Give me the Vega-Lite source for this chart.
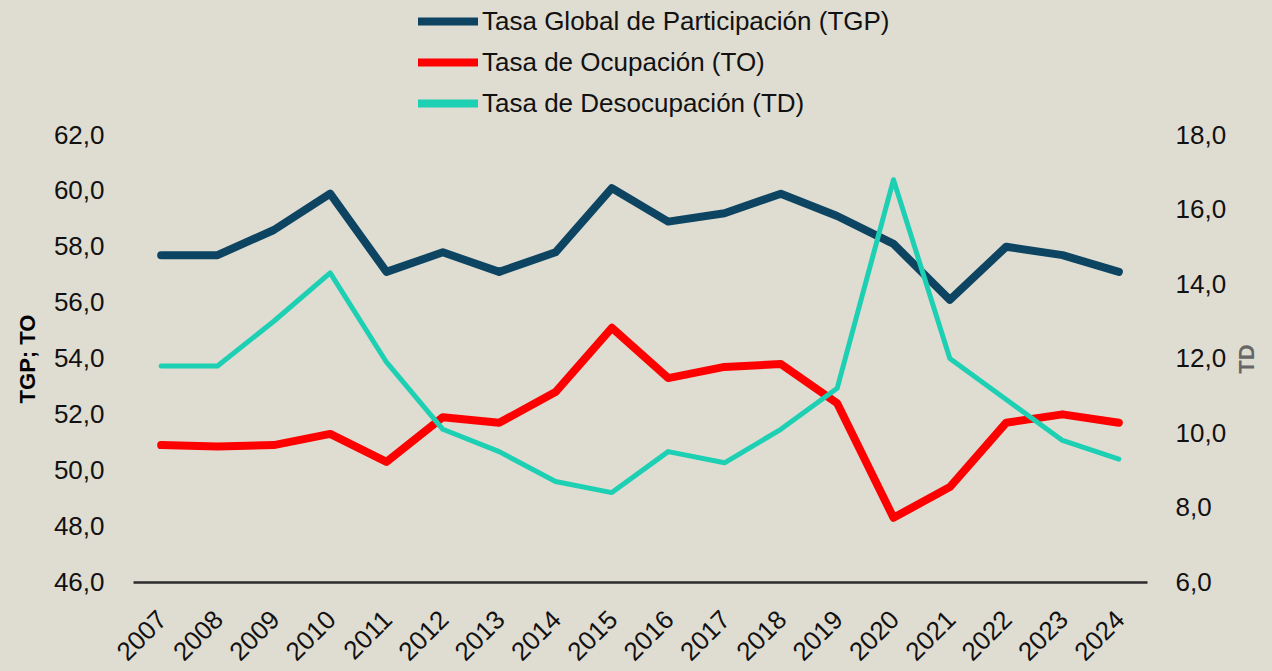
{
  "$schema": "https://vega.github.io/schema/vega-lite/v6.json",
  "width": 1014,
  "height": 447,
  "autosize": {"type": "none"},
  "padding": {"left": 133, "top": 135, "right": 125, "bottom": 89},
  "background": "#dfdcd1",
  "config": {"view": {"stroke": null}, "font": "Liberation Sans"},
  "data": {
    "values": [
      {"year": "2007", "serie": "Tasa Global de Participación (TGP)", "valor": 57.7},
      {"year": "2008", "serie": "Tasa Global de Participación (TGP)", "valor": 57.7},
      {"year": "2009", "serie": "Tasa Global de Participación (TGP)", "valor": 58.6},
      {"year": "2010", "serie": "Tasa Global de Participación (TGP)", "valor": 59.9},
      {"year": "2011", "serie": "Tasa Global de Participación (TGP)", "valor": 57.1},
      {"year": "2012", "serie": "Tasa Global de Participación (TGP)", "valor": 57.8},
      {"year": "2013", "serie": "Tasa Global de Participación (TGP)", "valor": 57.1},
      {"year": "2014", "serie": "Tasa Global de Participación (TGP)", "valor": 57.8},
      {"year": "2015", "serie": "Tasa Global de Participación (TGP)", "valor": 60.1},
      {"year": "2016", "serie": "Tasa Global de Participación (TGP)", "valor": 58.9},
      {"year": "2017", "serie": "Tasa Global de Participación (TGP)", "valor": 59.2},
      {"year": "2018", "serie": "Tasa Global de Participación (TGP)", "valor": 59.9},
      {"year": "2019", "serie": "Tasa Global de Participación (TGP)", "valor": 59.1},
      {"year": "2020", "serie": "Tasa Global de Participación (TGP)", "valor": 58.1},
      {"year": "2021", "serie": "Tasa Global de Participación (TGP)", "valor": 56.1},
      {"year": "2022", "serie": "Tasa Global de Participación (TGP)", "valor": 58.0},
      {"year": "2023", "serie": "Tasa Global de Participación (TGP)", "valor": 57.7},
      {"year": "2024", "serie": "Tasa Global de Participación (TGP)", "valor": 57.1},
      {"year": "2007", "serie": "Tasa de Ocupación (TO)", "valor": 50.9},
      {"year": "2008", "serie": "Tasa de Ocupación (TO)", "valor": 50.85},
      {"year": "2009", "serie": "Tasa de Ocupación (TO)", "valor": 50.9},
      {"year": "2010", "serie": "Tasa de Ocupación (TO)", "valor": 51.3},
      {"year": "2011", "serie": "Tasa de Ocupación (TO)", "valor": 50.3},
      {"year": "2012", "serie": "Tasa de Ocupación (TO)", "valor": 51.9},
      {"year": "2013", "serie": "Tasa de Ocupación (TO)", "valor": 51.7},
      {"year": "2014", "serie": "Tasa de Ocupación (TO)", "valor": 52.8},
      {"year": "2015", "serie": "Tasa de Ocupación (TO)", "valor": 55.1},
      {"year": "2016", "serie": "Tasa de Ocupación (TO)", "valor": 53.3},
      {"year": "2017", "serie": "Tasa de Ocupación (TO)", "valor": 53.7},
      {"year": "2018", "serie": "Tasa de Ocupación (TO)", "valor": 53.8},
      {"year": "2019", "serie": "Tasa de Ocupación (TO)", "valor": 52.4},
      {"year": "2020", "serie": "Tasa de Ocupación (TO)", "valor": 48.3},
      {"year": "2021", "serie": "Tasa de Ocupación (TO)", "valor": 49.4},
      {"year": "2022", "serie": "Tasa de Ocupación (TO)", "valor": 51.7},
      {"year": "2023", "serie": "Tasa de Ocupación (TO)", "valor": 52.0},
      {"year": "2024", "serie": "Tasa de Ocupación (TO)", "valor": 51.7},
      {"year": "2007", "serie": "Tasa de Desocupación (TD)", "valor": 11.8},
      {"year": "2008", "serie": "Tasa de Desocupación (TD)", "valor": 11.8},
      {"year": "2009", "serie": "Tasa de Desocupación (TD)", "valor": 13.0},
      {"year": "2010", "serie": "Tasa de Desocupación (TD)", "valor": 14.3},
      {"year": "2011", "serie": "Tasa de Desocupación (TD)", "valor": 11.9},
      {"year": "2012", "serie": "Tasa de Desocupación (TD)", "valor": 10.1},
      {"year": "2013", "serie": "Tasa de Desocupación (TD)", "valor": 9.5},
      {"year": "2014", "serie": "Tasa de Desocupación (TD)", "valor": 8.7},
      {"year": "2015", "serie": "Tasa de Desocupación (TD)", "valor": 8.4},
      {"year": "2016", "serie": "Tasa de Desocupación (TD)", "valor": 9.5},
      {"year": "2017", "serie": "Tasa de Desocupación (TD)", "valor": 9.2},
      {"year": "2018", "serie": "Tasa de Desocupación (TD)", "valor": 10.1},
      {"year": "2019", "serie": "Tasa de Desocupación (TD)", "valor": 11.2},
      {"year": "2020", "serie": "Tasa de Desocupación (TD)", "valor": 16.8},
      {"year": "2021", "serie": "Tasa de Desocupación (TD)", "valor": 12.0},
      {"year": "2022", "serie": "Tasa de Desocupación (TD)", "valor": 10.9},
      {"year": "2023", "serie": "Tasa de Desocupación (TD)", "valor": 9.8},
      {"year": "2024", "serie": "Tasa de Desocupación (TD)", "valor": 9.3}
    ]
  },
  "encoding": {
    "x": {
      "field": "year",
      "type": "ordinal",
      "scale": {"type": "point", "padding": 0.5},
      "axis": {
        "title": null,
        "labelAngle": -45,
        "labelFontSize": 26,
        "labelColor": "#111111",
        "labelPadding": 24,
        "labelOffset": -8,
        "ticks": false,
        "grid": false,
        "domainColor": "#2b2b2b",
        "domainWidth": 2.5
      }
    },
    "color": {
      "field": "serie",
      "type": "nominal",
      "scale": {
        "domain": ["Tasa Global de Participación (TGP)", "Tasa de Ocupación (TO)", "Tasa de Desocupación (TD)"],
        "range": ["#0c4462", "#ff0000", "#1dd0b4"]
      },
      "legend": {
        "title": null,
        "orient": "none",
        "legendX": 281,
        "legendY": -134,
        "direction": "vertical",
        "symbolType": "stroke",
        "symbolSize": 3600,
        "symbolStrokeWidth": 8,
        "clipHeight": 41,
        "labelFontSize": 26,
        "labelLimit": 0,
        "labelColor": "#111111",
        "labelOffset": 0,
        "rowPadding": 0
      }
    }
  },
  "layer": [
    {
      "transform": [{"filter": "datum.serie != 'Tasa de Desocupación (TD)'"}],
      "mark": {"type": "line", "strokeWidth": 8, "strokeJoin": "round", "strokeCap": "round"},
      "encoding": {
        "y": {
          "field": "valor",
          "type": "quantitative",
          "scale": {"domain": [46, 62], "nice": false, "zero": false},
          "axis": {
            "title": "TGP; TO",
            "titleFontSize": 22,
            "titleFontWeight": "bold",
            "titleColor": "#000000",
            "titlePadding": 14,
            "values": [46, 48, 50, 52, 54, 56, 58, 60, 62],
            "labelExpr": "replace(format(datum.value, '.1f'), '.', ',')",
            "labelFontSize": 26,
            "labelColor": "#111111",
            "labelPadding": 29,
            "domain": false,
            "ticks": false,
            "grid": false
          }
        }
      }
    },
    {
      "transform": [{"filter": "datum.serie == 'Tasa de Desocupación (TD)'"}],
      "mark": {"type": "line", "strokeWidth": 5, "strokeJoin": "round", "strokeCap": "round"},
      "encoding": {
        "y": {
          "field": "valor",
          "type": "quantitative",
          "scale": {"domain": [6, 18], "nice": false, "zero": false},
          "axis": {
            "orient": "right",
            "title": "TD",
            "titleAngle": -90,
            "titleFontSize": 22,
            "titleFontWeight": "bold",
            "titleColor": "#666666",
            "titlePadding": 33,
            "values": [6, 8, 10, 12, 14, 16, 18],
            "labelExpr": "replace(format(datum.value, '.1f'), '.', ',')",
            "labelFontSize": 26,
            "labelColor": "#111111",
            "labelPadding": 28,
            "domain": false,
            "ticks": false,
            "grid": false
          }
        }
      }
    }
  ],
  "resolve": {"scale": {"y": "independent"}}
}
